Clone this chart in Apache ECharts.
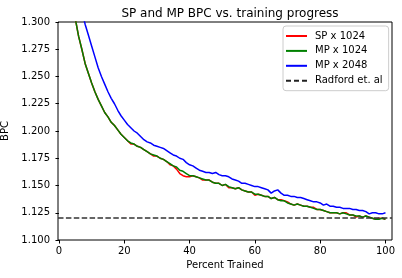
<!DOCTYPE html>
<html>
<head>
<meta charset="utf-8">
<script src="https://cdn.jsdelivr.net/npm/echarts@6/dist/echarts.min.js"></script>
<style>html,body{margin:0;padding:0;background:#fff}#c{width:402px;height:278px}</style>
</head>
<body>
<div id="c"></div>
<script>
// ---- data ----
var percentTrained = [4,5,6,7,8,9,10,11,12,13,14,15,16,17,18,19,20,21,22,23,24,25,26,27,28,29,30,31,32,33,34,35,36,37,38,39,40,41,42,43,44,45,46,47,48,49,50,51,52,53,54,55,56,57,58,59,60,61,62,63,64,65,66,67,68,69,70,71,72,73,74,75,76,77,78,79,80,81,82,83,84,85,86,87,88,89,90,91,92,93,94,95,96,97,98,99,100];
var mp1024 = [1.322,1.303,1.287,1.275,1.262,1.253,1.244,1.236,1.229,1.223,1.217,1.213,1.208,1.205,1.201,1.197,1.194,1.191,1.189,1.188,1.186,1.185,1.183,1.181,1.179,1.178,1.177,1.175,1.174,1.172,1.170,1.168,1.167,1.164,1.163,1.161,1.159,1.159,1.158,1.157,1.156,1.155,1.155,1.153,1.152,1.152,1.150,1.151,1.149,1.148,1.147,1.148,1.146,1.145,1.144,1.144,1.142,1.142,1.141,1.140,1.140,1.138,1.139,1.137,1.136,1.136,1.134,1.133,1.132,1.133,1.132,1.131,1.131,1.130,1.129,1.128,1.128,1.127,1.126,1.125,1.125,1.125,1.124,1.125,1.124,1.123,1.123,1.122,1.122,1.121,1.122,1.121,1.120,1.119,1.119,1.120,1.119];
var sp1024 = [1.322,1.303,1.287,1.275,1.262,1.253,1.244,1.236,1.229,1.223,1.217,1.213,1.208,1.205,1.201,1.197,1.194,1.191,1.188,1.188,1.186,1.185,1.183,1.181,1.179,1.177,1.177,1.175,1.174,1.172,1.169,1.168,1.165,1.161,1.159,1.158,1.158,1.159,1.158,1.157,1.155,1.155,1.155,1.153,1.152,1.152,1.150,1.151,1.148,1.148,1.147,1.148,1.146,1.145,1.144,1.144,1.141,1.142,1.141,1.140,1.140,1.138,1.139,1.137,1.137,1.136,1.135,1.133,1.132,1.133,1.132,1.131,1.131,1.130,1.130,1.128,1.128,1.127,1.126,1.125,1.125,1.125,1.124,1.125,1.125,1.123,1.123,1.121,1.122,1.121,1.122,1.121,1.120,1.119,1.120,1.120,1.119];
var percentTrained2048 = [7,8,9,10,11,12,13,14,15,16,17,18,19,20,21,22,23,24,25,26,27,28,29,30,31,32,33,34,35,36,37,38,39,40,41,42,43,44,45,46,47,48,49,50,51,52,53,54,55,56,57,58,59,60,61,62,63,64,65,66,67,68,69,70,71,72,73,74,75,76,77,78,79,80,81,82,83,84,85,86,87,88,89,90,91,92,93,94,95,96,97,98,99,100];
var mp2048 = [1.310,1.298,1.288,1.278,1.268,1.258,1.250,1.243,1.236,1.230,1.225,1.219,1.214,1.210,1.206,1.203,1.200,1.198,1.195,1.192,1.190,1.189,1.187,1.186,1.185,1.184,1.182,1.180,1.178,1.177,1.175,1.174,1.171,1.169,1.168,1.166,1.164,1.163,1.162,1.162,1.161,1.162,1.160,1.159,1.159,1.158,1.156,1.155,1.154,1.152,1.152,1.151,1.150,1.149,1.149,1.148,1.147,1.146,1.143,1.145,1.146,1.143,1.141,1.141,1.140,1.140,1.139,1.139,1.138,1.137,1.136,1.135,1.135,1.134,1.132,1.133,1.131,1.131,1.130,1.130,1.129,1.129,1.129,1.128,1.128,1.127,1.127,1.126,1.124,1.125,1.125,1.124,1.124,1.125];
var radfordBPC = 1.12;
var xTicks = [0,20,40,60,80,100];
var yTicks = [1.100,1.125,1.150,1.175,1.200,1.225,1.250,1.275,1.300];
var seriesNames = ['SP x 1024','MP x 1024','MP x 2048','Radford et. al'];

function pairs(xs, ys){ return xs.map(function(x,i){ return [x, ys[i]]; }); }

var FONT = 'DejaVu Sans';
var DASH_ICON = 'path://M0,0H5V2H0Z M8,0H13V2H8Z M16,0H21V2H16Z';
var chart = echarts.init(document.getElementById('c'), null, {renderer:'canvas'});
chart.setOption({
  animation:false,
  backgroundColor:'#fff',
  textStyle:{fontFamily:FONT},
  title:{text:'SP and MP BPC vs. training progress', left:225, top:3, textAlign:'center',
    textStyle:{fontFamily:FONT, fontSize:12, fontWeight:'normal', color:'#000'}},
  grid:{left:58, right:10, top:22, bottom:38, show:true, borderColor:'#000', borderWidth:1, backgroundColor:'transparent',
    containLabel:false, outerBoundsMode:'none'},
  legend:{left:283, top:26, orient:'vertical', itemWidth:21, itemHeight:2, itemGap:2.9,
    padding:[4,6,4,3], borderColor:'#ccc', borderWidth:1, borderRadius:3, backgroundColor:'rgba(255,255,255,0.8)',
    textStyle:{fontFamily:FONT, fontSize:10, color:'#000', padding:[0,0,0,3], lineHeight:12},
    data:[
      {name:seriesNames[0], icon:'rect'},
      {name:seriesNames[1], icon:'rect'},
      {name:seriesNames[2], icon:'rect'},
      {name:seriesNames[3], icon:DASH_ICON, itemStyle:{color:'#222'}}
    ]},
  xAxis:{type:'value', min:-0.3, max:102, name:'Percent Trained', nameLocation:'middle', nameGap:20,
    nameTextStyle:{fontFamily:FONT, fontSize:10, color:'#000'},
    axisLine:{show:false}, splitLine:{show:false},
    axisTick:{show:true, inside:false, length:3.5, lineStyle:{color:'#000', width:1}, customValues:xTicks},
    axisLabel:{fontFamily:FONT, fontSize:10, color:'#000', margin:6, customValues:xTicks, formatter:function(v){return String(v);}}},
  yAxis:{type:'value', min:1.1, max:1.3, name:'BPC', nameLocation:'middle', nameGap:38,
    nameTextStyle:{fontFamily:FONT, fontSize:10, color:'#000'},
    axisLine:{show:false}, splitLine:{show:false},
    axisTick:{show:true, inside:false, length:3.5, lineStyle:{color:'#000', width:1}, customValues:yTicks},
    axisLabel:{fontFamily:FONT, fontSize:10, color:'#000', margin:8, customValues:yTicks, formatter:function(v){return v.toFixed(3);}}},
  series:[
    {name:seriesNames[0], type:'line', data:pairs(percentTrained, sp1024), symbol:'none', clip:true,
      lineStyle:{color:'#ff0000', width:1.5}, itemStyle:{color:'#ff0000'}},
    {name:seriesNames[1], type:'line', data:pairs(percentTrained, mp1024), symbol:'none', clip:true,
      lineStyle:{color:'#008000', width:1.5}, itemStyle:{color:'#008000'}},
    {name:seriesNames[2], type:'line', data:pairs(percentTrained2048, mp2048), symbol:'none', clip:true,
      lineStyle:{color:'#0000ff', width:1.5}, itemStyle:{color:'#0000ff'}},
    {name:seriesNames[3], type:'line', data:[], symbol:'none',
      lineStyle:{color:'#333', width:1.5, type:[5.5,2.4]}, itemStyle:{color:'#333'},
      markLine:{silent:true, symbol:'none', label:{show:false}, animation:false,
        lineStyle:{color:'#333', width:1.5, type:[5.5,2.4]}, data:[{yAxis:radfordBPC}]}}
  ]
});
</script>
</body>
</html>
